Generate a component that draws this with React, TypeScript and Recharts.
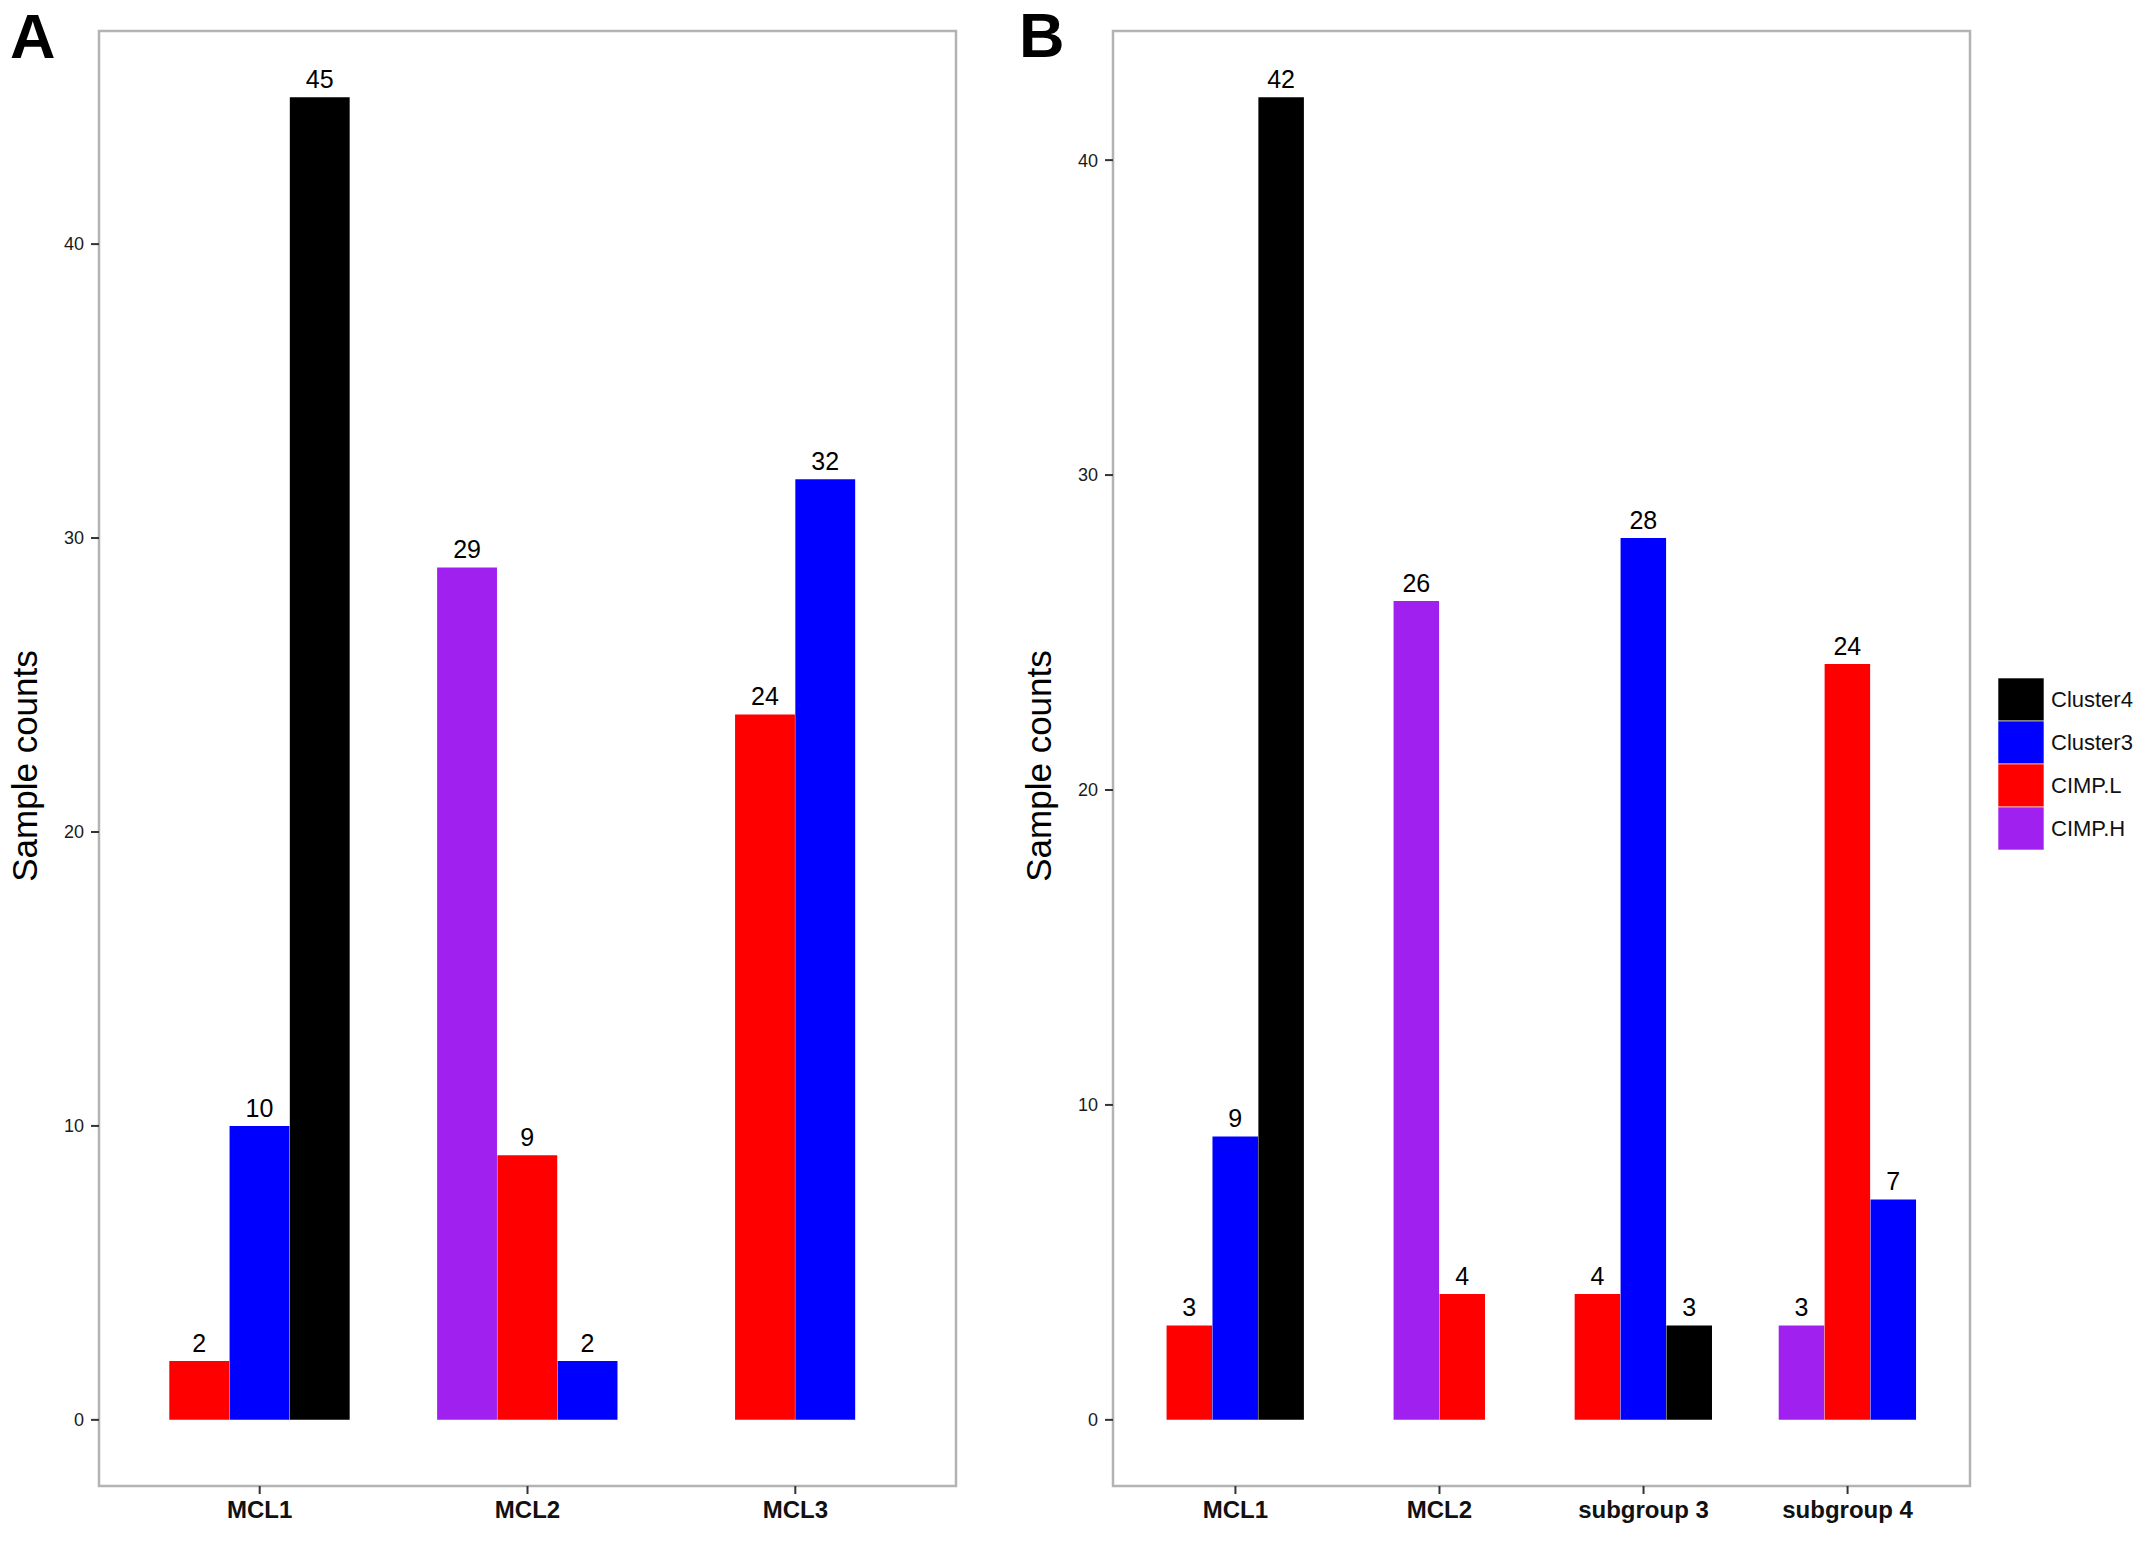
import { BarChart, Bar, XAxis, YAxis, Cell, LabelList, ReferenceArea } from "recharts"

// series in dodge order (left to right inside a group)
const seriesNames = ["CIMP.H", "CIMP.L", "Cluster3", "Cluster4"]
const seriesColors = ["#A020F0", "#FF0000", "#0000FF", "#000000"]

// panel A
const groupsA = ["MCL1", "MCL2", "MCL3"]
const cimpHA = [null, 29, null]
const cimpLA = [2, 9, 24]
const cluster3A = [10, 2, 32]
const cluster4A = [45, null, null]

// panel B
const groupsB = ["MCL1", "MCL2", "subgroup 3", "subgroup 4"]
const cimpHB = [null, 26, null, 3]
const cimpLB = [3, 4, 4, 24]
const cluster3B = [9, null, 28, 7]
const cluster4B = [42, null, 3, null]

const yTicks = [0, 10, 20, 30, 40]

const FONT = "'Liberation Sans', Arial, sans-serif"
const SLOT = 0.9 / 4 // ggplot dodge width split across 4 fill levels
const PLOT_W = 857
const CHART_H = 1542

type Row = { x: number; count: number; color: string }

const buildRows = (groups: string[], series: (number | null)[][]) => {
  const rows: Row[] = []
  groups.forEach((_, gi) => {
    const present = series
      .map((vals, si) => ({ si, v: vals[gi] }))
      .filter((d) => d.v != null)
    const n = present.length
    present.forEach((d, k) => {
      rows.push({
        x: gi + 1 + (k - (n - 1) / 2) * SLOT,
        count: d.v as number,
        color: seriesColors[d.si],
      })
    })
  })
  return rows
}

type PanelProps = {
  groups: string[]
  series: (number | null)[][]
  left: number
  marginLeft: number
  marginRight: number
}

function Panel({ groups, series, left, marginLeft, marginRight }: PanelProps) {
  const rows = buildRows(groups, series)
  const maxVal = Math.max(...rows.map((r) => r.count))
  const yDomain = [-0.05 * maxVal, 1.05 * maxVal]
  const xDomain = [0.4, groups.length + 0.6]
  const pxPerUnit = PLOT_W / (xDomain[1] - xDomain[0])
  const barSize = SLOT * pxPerUnit - 0.4
  const width = marginLeft + 60 + PLOT_W + marginRight

  return (
    <div style={{ position: "absolute", left, top: 0 }}>
      <BarChart
        width={width}
        height={CHART_H}
        data={rows}
        margin={{ top: 31, right: marginRight, bottom: 0, left: marginLeft }}
        style={{ fontFamily: FONT }}
      >
        <XAxis
          type="number"
          dataKey="x"
          domain={xDomain}
          ticks={groups.map((_, i) => i + 1)}
          interval={0}
          allowDataOverflow
          height={56}
          axisLine={false}
          tickLine={{ stroke: "#333", strokeWidth: 2 }}
          tickSize={8}
          tickMargin={7}
          tickFormatter={(v: number) => groups[Math.round(v) - 1]}
          tick={{ fill: "#111", fontSize: 24, fontWeight: "bold", fontFamily: FONT }}
        />
        <YAxis
          type="number"
          domain={yDomain}
          ticks={yTicks}
          allowDataOverflow
          width={60}
          axisLine={false}
          tickLine={{ stroke: "#333", strokeWidth: 2 }}
          tickSize={8}
          tickMargin={7}
          tick={{ fill: "#1a1a1a", fontSize: 18, fontFamily: FONT }}
        />
        <ReferenceArea
          x1={xDomain[0]}
          x2={xDomain[1]}
          y1={yDomain[0]}
          y2={yDomain[1]}
          fill="none"
          stroke="#b3b3b3"
          strokeWidth={2.5}
          ifOverflow="visible"
        />
        <Bar dataKey="count" barSize={barSize} isAnimationActive={false}>
          {rows.map((r, i) => (
            <Cell key={i} fill={r.color} />
          ))}
          <LabelList
            dataKey="count"
            position="top"
            offset={9}
            fill="#000"
            fontSize={25}
            fontFamily={FONT}
          />
        </Bar>
      </BarChart>
    </div>
  )
}

export default function App() {
  const legendItems = seriesNames.map((name, i) => ({ name, color: seriesColors[i] })).reverse()

  return (
    <div
      style={{
        position: "absolute",
        left: 0,
        top: 0,
        width: 2150,
        height: CHART_H,
        background: "#fff",
        fontFamily: FONT,
      }}
    >
      <Panel
        groups={groupsA}
        series={[cimpHA, cimpLA, cluster3A, cluster4A]}
        left={0}
        marginLeft={39}
        marginRight={44}
      />
      <Panel
        groups={groupsB}
        series={[cimpHB, cimpLB, cluster3B, cluster4B]}
        left={1000}
        marginLeft={53}
        marginRight={30}
      />
      <svg
        width={2150}
        height={CHART_H}
        style={{ position: "absolute", left: 0, top: 0, pointerEvents: "none", fontFamily: FONT }}
      >
        <text x={10} y={58} fontSize={63} fontWeight="bold" fill="#000">A</text>
        <text x={1019} y={57} fontSize={63} fontWeight="bold" fill="#000">B</text>
        <text x={37} y={766} fontSize={35} fill="#000" textAnchor="middle" transform="rotate(-90 37 766)">
          Sample counts
        </text>
        <text x={1051} y={766} fontSize={35} fill="#000" textAnchor="middle" transform="rotate(-90 1051 766)">
          Sample counts
        </text>
        {legendItems.map((item, i) => (
          <g key={item.name}>
            <rect x={1998} y={678 + i * 43} width={46} height={43} fill={item.color} stroke="#fff" strokeWidth={0.6} />
            <text x={2051} y={678 + i * 43 + 29} fontSize={22} fill="#111">
              {item.name}
            </text>
          </g>
        ))}
      </svg>
    </div>
  )
}
